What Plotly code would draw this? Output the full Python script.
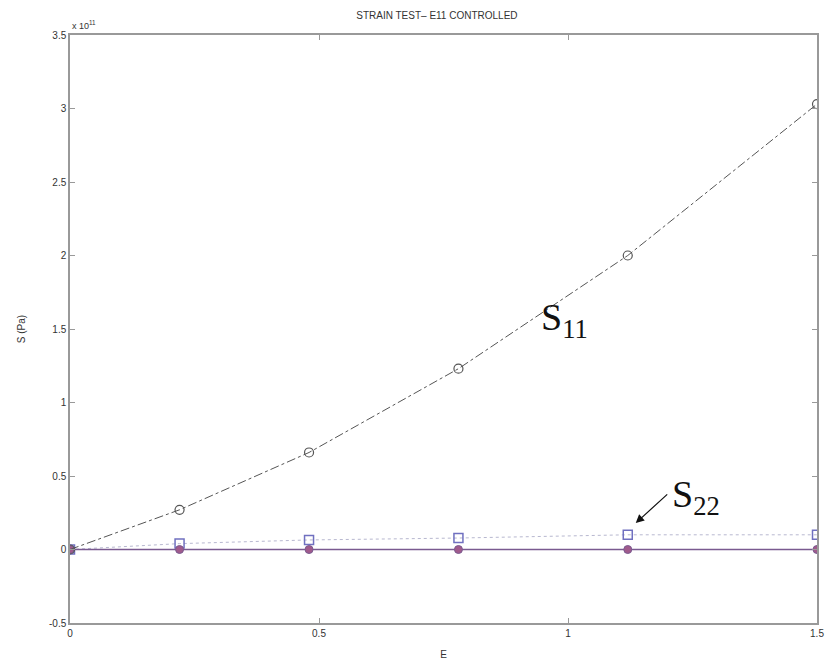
import plotly.graph_objects as go

strain = [0, 0.22, 0.48, 0.78, 1.12, 1.5]
s11 = [0, 0.27, 0.66, 1.23, 2.0, 3.03]      # x 10^11 Pa
s22 = [0, 0.04, 0.065, 0.078, 0.10, 0.10]   # x 10^11 Pa
s33 = [0, 0, 0, 0, 0, 0]                    # x 10^11 Pa
y_ticks = [-0.5, 0, 0.5, 1, 1.5, 2, 2.5, 3, 3.5]
y_tick_labels = ["-0.5", "0", "0.5", "1", "1.5", "2", "2.5", "3", "3.5"]
x_ticks = [0, 0.5, 1, 1.5]
x_tick_labels = ["0", "0.5", "1", "1.5"]

fig = go.Figure()
fig.add_trace(go.Scatter(x=strain, y=s22, mode="lines+markers",
                         line=dict(color="#b8b8d0", width=1, dash="dot"),
                         marker=dict(symbol="square-open", size=9, color="#7070c0", line=dict(width=1.5)),
                         showlegend=False))
fig.add_trace(go.Scatter(x=strain, y=s33, mode="lines+markers",
                         line=dict(color="#7a5a90", width=1.5),
                         marker=dict(symbol="circle", size=8, color="#a05a8c", line=dict(color="#7a5a90", width=1)),
                         showlegend=False))
fig.add_trace(go.Scatter(x=strain, y=s11, mode="lines+markers",
                         line=dict(color="#555555", width=1, dash="dashdot"),
                         marker=dict(symbol="circle-open", size=9, color="#555555", line=dict(width=1.2)),
                         showlegend=False))

fig.add_annotation(x=0.942, y=1.56, text="S<sub>11</sub>", showarrow=False,
                   font=dict(family="Liberation Serif", size=38, color="#111111"),
                   xanchor="left", yanchor="middle")
fig.add_annotation(x=1.136, y=0.18, ax=33, ay=-30, text="", showarrow=True,
                   arrowhead=2, arrowsize=1.4, arrowwidth=1.2, arrowcolor="#111111",
                   standoff=0)
fig.add_annotation(x=1.205, y=0.36, text="S<sub>22</sub>", showarrow=False,
                   font=dict(family="Liberation Serif", size=38, color="#111111"),
                   xanchor="left", yanchor="middle")

fig.add_annotation(xref="paper", yref="paper", x=0.0, y=1.0, text="x 10<sup>11</sup>",
                   showarrow=False, xanchor="left", yanchor="bottom", yshift=2,
                   font=dict(family="Liberation Sans", size=9, color="#333333"))

axis_common = dict(showgrid=False, zeroline=False, showline=True, linecolor="#999999",
                   linewidth=1.5, mirror="ticks", ticks="inside", ticklen=5, automargin=False,
                   tickcolor="#999999", tickfont=dict(family="Liberation Sans", size=10, color="#333333"))
fig.update_xaxes(range=[0, 1.5], tickvals=x_ticks, ticktext=x_tick_labels,
                 title=dict(text="E", font=dict(family="Liberation Sans", size=10, color="#333333"), standoff=13),
                 **axis_common)
fig.update_yaxes(range=[-0.5, 3.5], tickvals=y_ticks, ticktext=y_tick_labels,
                 title=dict(text="S (Pa)", font=dict(family="Liberation Sans", size=10, color="#333333"), standoff=22),
                 **axis_common)

fig.update_layout(
    width=828, height=656,
    margin=dict(l=62, r=19, t=27, b=41),
    paper_bgcolor="white", plot_bgcolor="white",
    title=dict(text="STRAIN TEST– E11 CONTROLLED", x=0.518, xanchor="center",
               yref="container", y=0.989, yanchor="middle",
               font=dict(family="Liberation Sans", size=10, color="#333333")),
)

fig.write_html("out.html")
